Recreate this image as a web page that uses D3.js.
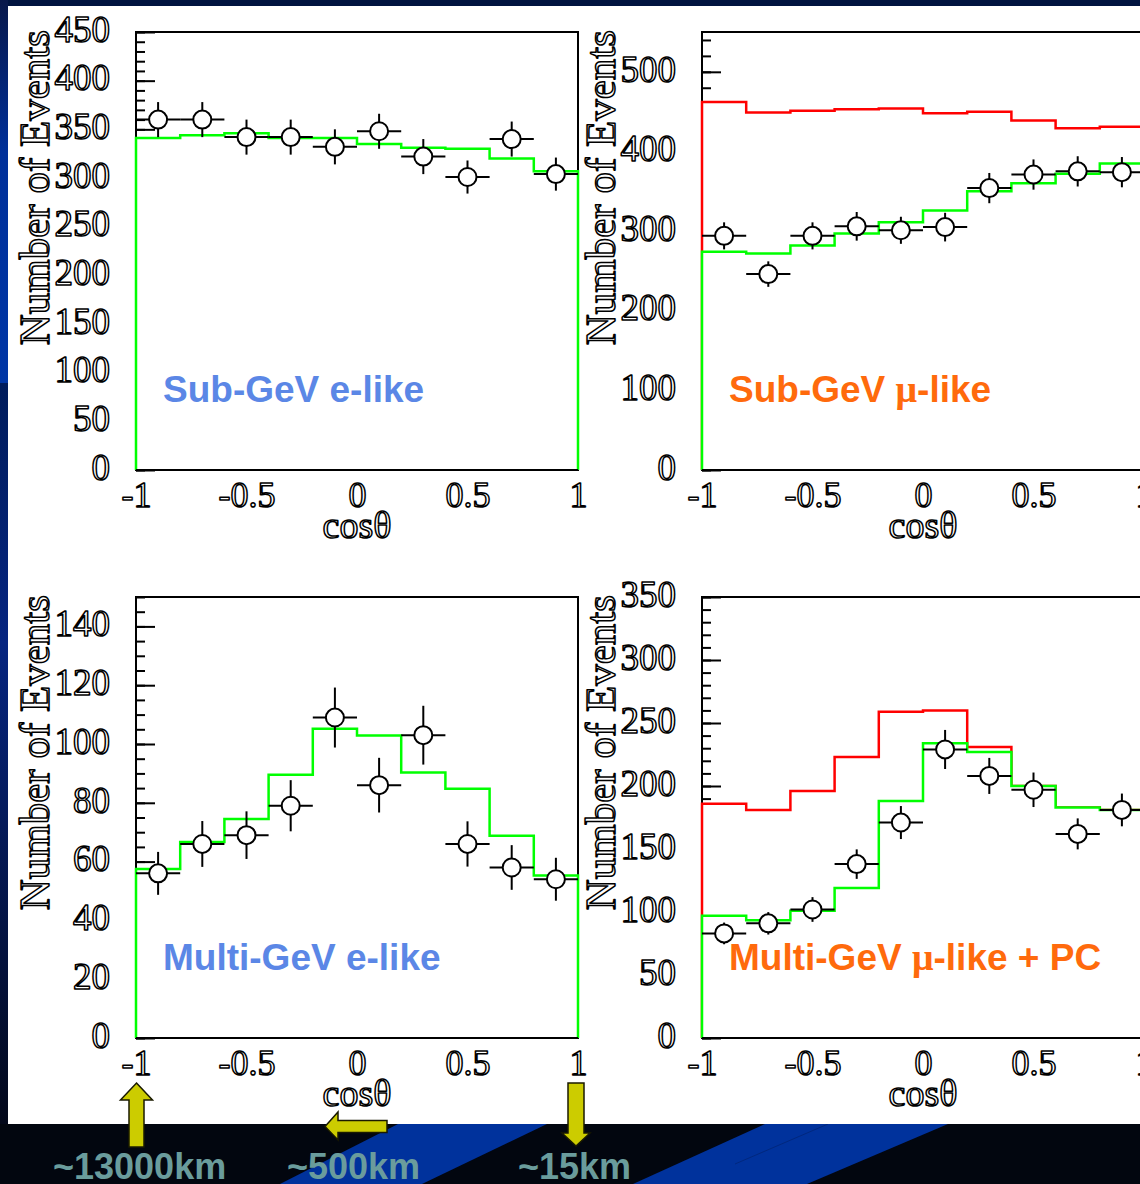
<!DOCTYPE html>
<html>
<head>
<meta charset="utf-8">
<script src="https://cdn.jsdelivr.net/npm/d3@7"></script>
<style>
  html, body { margin: 0; padding: 0; background: #02070f; }
  svg { display: block; }
</style>
</head>
<body>
<svg id="chart" width="1140" height="1184"></svg>
<script>
// ---- zenith-angle bins (cosθ), width 0.2 ----
const cosBins = [-0.9, -0.7, -0.5, -0.3, -0.1, 0.1, 0.3, 0.5, 0.7, 0.9];
const binHalfWidth = 0.1;
const cosTicks = [-1, -0.5, 0, 0.5, 1];

// ---- Sub-GeV e-like ----
const subGeVeData = [360, 360, 342, 342, 332, 348, 322, 301, 340, 304];
const subGeVeErr  = [18, 18, 18, 18, 18, 18, 18, 17, 18, 17];
const subGeVeMC   = [341, 344, 346, 341, 341, 335, 331, 330, 320, 307];

// ---- Sub-GeV mu-like ----
const subGeVmuData  = [294, 246, 294, 306, 301, 305, 354, 371, 375, 374];
const subGeVmuErr   = [17, 16, 17, 18, 17, 18, 19, 19, 19, 19];
const subGeVmuMC    = [274, 272, 282, 297, 311, 326, 350, 360, 372, 385];
const subGeVmuNoOsc = [462, 449, 451, 453, 454, 448, 450, 439, 429, 431];

// ---- Multi-GeV e-like ----
const multiGeVeData = [56, 66, 69, 79, 109, 86, 103, 66, 58, 54];
const multiGeVeErr  = [7.3, 7.8, 8.1, 8.7, 10.2, 9.3, 10.0, 7.7, 7.6, 7.3];
const multiGeVeMC   = [57.5, 66.7, 74.5, 89.5, 105.2, 102.9, 90.3, 84.8, 68.8, 55.3];

// ---- Multi-GeV mu-like + PC ----
const multiGeVmuData  = [83, 91, 102, 138, 171, 229, 208, 197, 162, 181];
const multiGeVmuErr   = [8.6, 8.9, 9.8, 11.7, 13.1, 15.5, 14.3, 13.7, 12.3, 13.0];
const multiGeVmuMC    = [97, 93.5, 101, 119, 188, 234, 227, 200, 183, 181];
const multiGeVmuNoOsc = [186, 181, 196, 223, 259, 260, 231, 200, 183, 181];

// ---- y-axis tick labels ----
const subGeVeTicks    = [0, 50, 100, 150, 200, 250, 300, 350, 400, 450];
const subGeVmuTicks   = [0, 100, 200, 300, 400, 500];
const multiGeVeTicks  = [0, 20, 40, 60, 80, 100, 120, 140];
const multiGeVmuTicks = [0, 50, 100, 150, 200, 250, 300, 350];

// ---- path-length annotations ----
const distanceLabels = ["~13000km", "~500km", "~15km"];

const svg = d3.select("#chart");
const W = 1140, H = 1184;

// ---------- slide background ----------
const defs = svg.append("defs");
const gTop = defs.append("linearGradient").attr("id", "stripTop")
  .attr("x1", 0).attr("y1", 0).attr("x2", 0).attr("y2", 1);
gTop.append("stop").attr("offset", "0%").attr("stop-color", "#08184a");
gTop.append("stop").attr("offset", "40%").attr("stop-color", "#00309a");
gTop.append("stop").attr("offset", "100%").attr("stop-color", "#0036a6");
const gLow = defs.append("linearGradient").attr("id", "stripLow")
  .attr("x1", 0).attr("y1", 0).attr("x2", 0).attr("y2", 1);
gLow.append("stop").attr("offset", "0%").attr("stop-color", "#001c5c");
gLow.append("stop").attr("offset", "35%").attr("stop-color", "#062580");
gLow.append("stop").attr("offset", "100%").attr("stop-color", "#03081a");

svg.append("rect").attr("width", W).attr("height", H).attr("fill", "#02060f");
svg.append("rect").attr("x", 0).attr("y", 0).attr("width", W).attr("height", 6).attr("fill", "#001440");
svg.append("rect").attr("x", 0).attr("y", 0).attr("width", 8).attr("height", 383).attr("fill", "url(#stripTop)");
svg.append("rect").attr("x", 0).attr("y", 383).attr("width", 8).attr("height", 741).attr("fill", "url(#stripLow)");

// diagonal swooshes in the bottom band
const swooshes = [
  [[398, 1124], [547, 1124], [422, 1184], [280, 1184]],
  [[765, 1124], [948, 1124], [807, 1184], [633, 1184]]
];
svg.selectAll("polygon.swoosh").data(swooshes).join("polygon")
  .attr("class", "swoosh")
  .attr("points", d => d.map(p => p.join(",")).join(" "))
  .attr("fill", "#00329c");
svg.append("line").attr("x1", 828).attr("y1", 1124).attr("x2", 735).attr("y2", 1164)
  .attr("stroke", "#00287e").attr("stroke-width", 1);

// white plotting sheet
svg.append("rect").attr("x", 8).attr("y", 6).attr("width", W - 8).attr("height", 1118).attr("fill", "#ffffff");

// ---------- panels ----------
const panels = [
  { title: ["Sub-GeV e-like"], color: "#5b87e6", left: 136, top: 32, bottom: 470,
    yMax: 450, ticks: subGeVeTicks, minorStep: 10,
    data: subGeVeData, err: subGeVeErr, mc: subGeVeMC, noosc: null },
  { title: ["Sub-GeV ", "\u03bc", "-like"], color: "#ff6a0c", left: 702, top: 32, bottom: 470,
    yMax: 550, ticks: subGeVmuTicks, minorStep: 20,
    data: subGeVmuData, err: subGeVmuErr, mc: subGeVmuMC, noosc: subGeVmuNoOsc },
  { title: ["Multi-GeV e-like"], color: "#5b87e6", left: 136, top: 597, bottom: 1038,
    yMax: 150, ticks: multiGeVeTicks, minorStep: 5,
    data: multiGeVeData, err: multiGeVeErr, mc: multiGeVeMC, noosc: null },
  { title: ["Multi-GeV ", "\u03bc", "-like + PC"], color: "#ff6a0c", left: 702, top: 597, bottom: 1038,
    yMax: 350, ticks: multiGeVmuTicks, minorStep: 10,
    data: multiGeVmuData, err: multiGeVmuErr, mc: multiGeVmuMC, noosc: multiGeVmuNoOsc }
];
const panelWidth = 442;

const serif = "'Liberation Serif', 'DejaVu Serif', serif";
const sans = "'Liberation Sans', Arial, sans-serif";

// hollow serif lettering used for the axis labels
function outlineText(sel, size) {
  sel.attr("font-family", serif).attr("font-size", size)
    .attr("fill", "#ffffff").attr("stroke", "#000000").attr("stroke-width", 1.5)
    .attr("stroke-linejoin", "round");
}

const fmtCos = v => (v < 0 ? "-" : "") + String(Math.abs(v));

panels.forEach(p => {
  const g = svg.append("g");
  const x = d3.scaleLinear().domain([-1, 1]).range([p.left, p.left + panelWidth]);
  const y = d3.scaleLinear().domain([0, p.yMax]).range([p.bottom, p.top]);

  // frame
  g.append("rect").attr("x", x(-1)).attr("y", y(p.yMax))
    .attr("width", x(1) - x(-1)).attr("height", y(0) - y(p.yMax))
    .attr("fill", "none").attr("stroke", "#000").attr("stroke-width", 2);

  // inward ticks on the left axis
  const minor = d3.range(0, p.yMax + 0.001, p.minorStep);
  const axMinor = d3.axisRight(y).tickValues(minor).tickSize(9).tickFormat("");
  const axMajor = d3.axisRight(y).tickValues(p.ticks).tickSize(19).tickFormat("");
  [axMinor, axMajor].forEach(ax => {
    const a = g.append("g").attr("transform", `translate(${x(-1)},0)`).call(ax);
    a.select(".domain").remove();
    a.selectAll("line").attr("stroke", "#000").attr("stroke-width", 2);
  });

  // y tick labels
  const yl = g.append("g").attr("transform", `translate(${x(-1)},0)`)
    .call(d3.axisLeft(y).tickValues(p.ticks).tickSize(0).tickPadding(26));
  yl.select(".domain").remove();
  yl.selectAll("text").call(outlineText, 37).attr("dy", "0.33em").attr("y", -3);

  // x tick labels
  const xl = g.append("g").attr("transform", `translate(0,${y(0)})`)
    .call(d3.axisBottom(x).tickValues(cosTicks).tickSize(0).tickPadding(11).tickFormat(fmtCos));
  xl.select(".domain").remove();
  xl.selectAll("text").call(outlineText, 36).attr("dy", "0.71em");

  // axis titles
  g.append("text").attr("x", x(0)).attr("y", y(0) + 68).attr("text-anchor", "middle")
    .text("cos\u03b8").call(outlineText, 38);
  g.append("text")
    .attr("transform", `translate(${p.left - 87},${p.top - 2}) rotate(-90)`)
    .attr("text-anchor", "end")
    .text("Number of Events").call(outlineText, 43);

  // histogram outlines (white filled, drawn over the axis ticks)
  const histPoints = vals => {
    const pts = [[-1, 0]];
    vals.forEach((v, i) => {
      pts.push([cosBins[i] - binHalfWidth, v]);
      pts.push([cosBins[i] + binHalfWidth, v]);
    });
    pts.push([1, 0]);
    return pts;
  };
  const line = d3.line().x(d => x(d[0])).y(d => y(d[1]));
  if (p.noosc) {
    g.append("path").attr("d", line(histPoints(p.noosc)))
      .attr("fill", "#fff").attr("stroke", "#ff0000").attr("stroke-width", 2.5);
  }
  g.append("path").attr("d", line(histPoints(p.mc)))
    .attr("fill", "#fff").attr("stroke", "#00ff00").attr("stroke-width", 2.5);

  // bottom edge of frame on top of the histograms
  g.append("line").attr("x1", x(-1)).attr("x2", x(1)).attr("y1", y(0)).attr("y2", y(0))
    .attr("stroke", "#000").attr("stroke-width", 2);

  // data points with statistical errors
  const pts = g.selectAll("g.pt").data(p.data.map((v, i) => ({ c: cosBins[i], v, e: p.err[i] })))
    .join("g").attr("class", "pt");
  pts.append("line")
    .attr("x1", d => x(d.c - binHalfWidth)).attr("x2", d => x(d.c + binHalfWidth))
    .attr("y1", d => y(d.v)).attr("y2", d => y(d.v))
    .attr("stroke", "#000").attr("stroke-width", 2);
  pts.append("line")
    .attr("x1", d => x(d.c)).attr("x2", d => x(d.c))
    .attr("y1", d => y(d.v - d.e)).attr("y2", d => y(d.v + d.e))
    .attr("stroke", "#000").attr("stroke-width", 2);
  pts.append("circle").attr("cx", d => x(d.c)).attr("cy", d => y(d.v)).attr("r", 9)
    .attr("fill", "#fff").attr("stroke", "#000").attr("stroke-width", 2);

  // sample label
  const t = g.append("text").attr("x", x(-1) + 27).attr("y", p.top + (p.bottom - p.top) * 0.845)
    .attr("font-family", sans).attr("font-weight", "bold").attr("font-size", 37).attr("fill", p.color);
  p.title.forEach(s => {
    const ts = t.append("tspan").text(s);
    if (s === "\u03bc") ts.attr("font-family", serif).attr("font-size", 38);
  });
});

// ---------- flight-distance arrows ----------
const arrows = [
  [[136.5, 1083], [152.5, 1100], [144, 1100], [144, 1147], [129, 1147], [129, 1100], [120.5, 1100]],
  [[325, 1126.5], [338, 1112], [338, 1120.5], [387, 1120.5], [387, 1132.5], [338, 1132.5], [338, 1140]],
  [[568, 1083], [584, 1083], [584, 1133], [590, 1133], [576, 1146], [562, 1133], [568, 1133]]
];
svg.selectAll("polygon.arrow").data(arrows).join("polygon")
  .attr("class", "arrow")
  .attr("points", d => d.map(p => p.join(",")).join(" "))
  .attr("fill", "#cccc00").attr("stroke", "#1a1a00").attr("stroke-width", 1.5)
  .attr("stroke-linejoin", "miter");

const labelX = [53, 287, 518];
svg.selectAll("text.dist").data(distanceLabels).join("text")
  .attr("class", "dist")
  .attr("x", (d, i) => labelX[i]).attr("y", 1179)
  .attr("font-family", sans).attr("font-weight", "bold").attr("font-size", 36)
  .attr("fill", "#6a9c9c")
  .text(d => d);
</script>
</body>
</html>
